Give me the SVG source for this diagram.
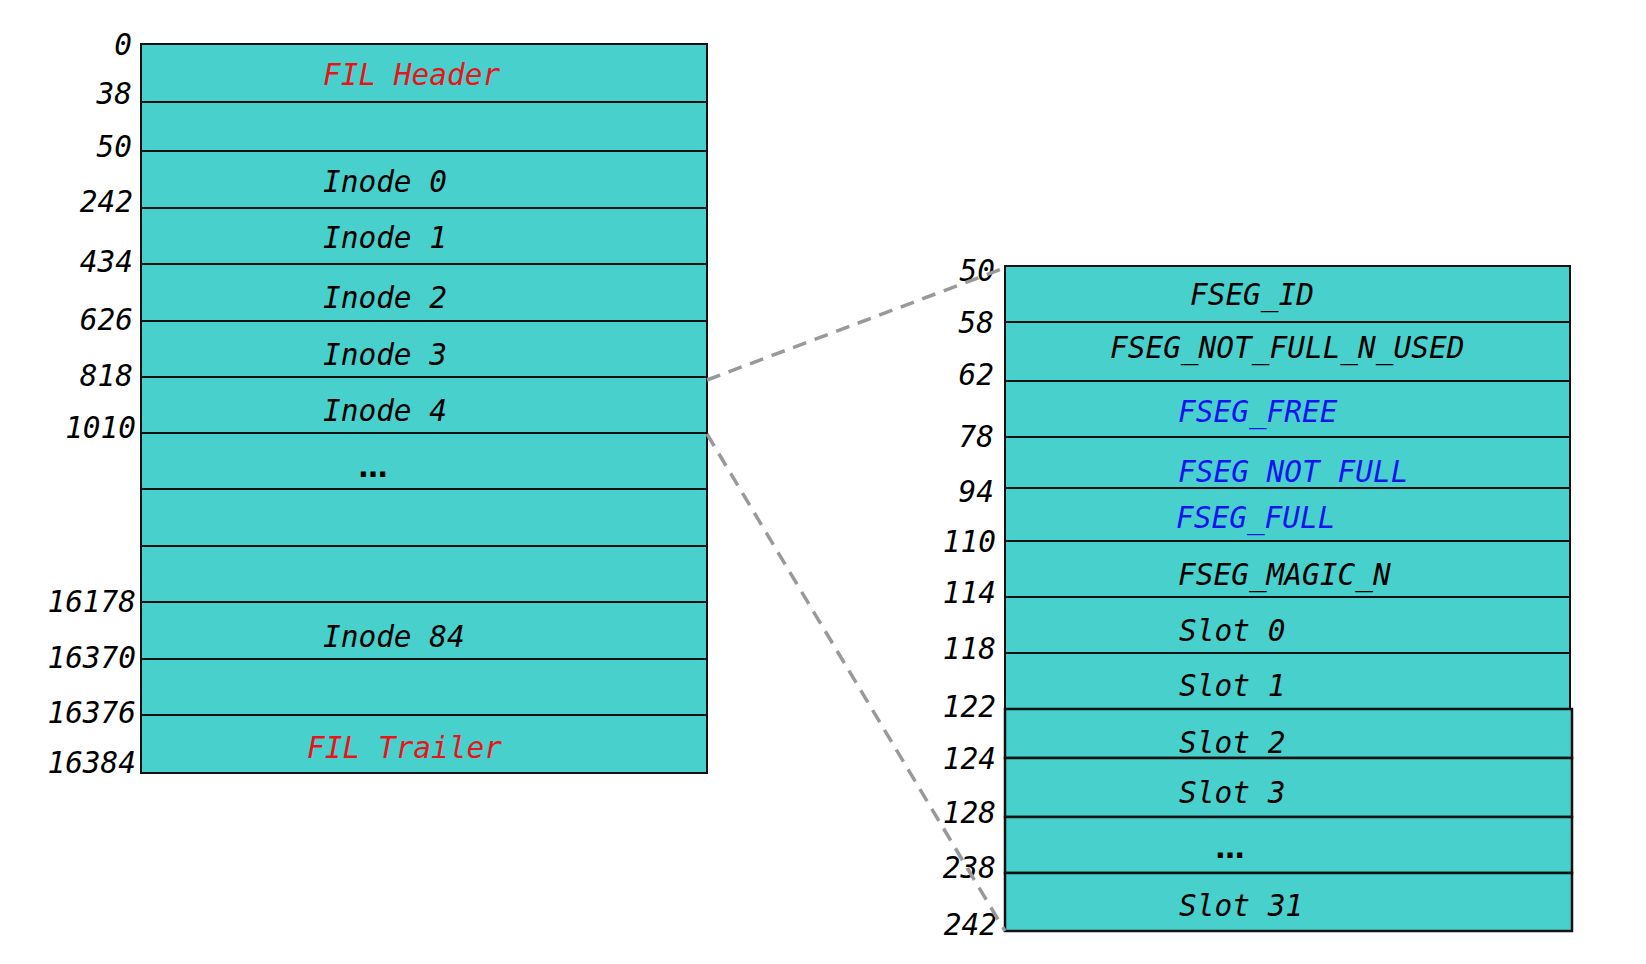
<svg xmlns="http://www.w3.org/2000/svg" width="1646" height="964" viewBox="0 0 1646 964">
<style>
.row{fill:#48D1CC;stroke:#111;stroke-width:2}
.rowb{fill:#48D1CC;stroke:#111;stroke-width:2.5}
.t{font-family:"DejaVu Sans Mono","Liberation Mono",monospace;font-style:italic;font-size:31px;fill:#000}
.red{fill:#e8141a}
.blue{fill:#1414ee}
.lbl{font-family:"DejaVu Sans Mono","Liberation Mono",monospace;font-style:italic;font-size:31px;fill:#000;text-anchor:end}
.dots{font-family:"DejaVu Sans",sans-serif;font-weight:bold;font-size:29px;fill:#000;text-anchor:middle}
.conn{stroke:#999;stroke-width:3.5;stroke-dasharray:14 9;fill:none}
</style>
<rect width="1646" height="964" fill="#fff"/>
<g id="page">
  <g id="fil-header"><rect class="row" x="141" y="44" width="566" height="58"/><text class="t red" transform="scale(0.95 1)" x="340" y="85">FIL Header</text></g>
  <g id="row-38"><rect class="row" x="141" y="102" width="566" height="49"/></g>
  <g id="inode-0"><rect class="row" x="141" y="151" width="566" height="57"/><text class="t" transform="scale(0.95 1)" x="340" y="192">Inode 0</text></g>
  <g id="inode-1"><rect class="row" x="141" y="208" width="566" height="56"/><text class="t" transform="scale(0.95 1)" x="340" y="248">Inode 1</text></g>
  <g id="inode-2"><rect class="row" x="141" y="264" width="566" height="57"/><text class="t" transform="scale(0.95 1)" x="340" y="308">Inode 2</text></g>
  <g id="inode-3"><rect class="row" x="141" y="321" width="566" height="56"/><text class="t" transform="scale(0.95 1)" x="340" y="365">Inode 3</text></g>
  <g id="inode-4"><rect class="row" x="141" y="377" width="566" height="56"/><text class="t" transform="scale(0.95 1)" x="340" y="421">Inode 4</text></g>
  <g id="inode-more"><rect class="row" x="141" y="433" width="566" height="56"/><text class="dots" x="373" y="477">…</text></g>
  <g id="row-blank-1"><rect class="row" x="141" y="489" width="566" height="57"/></g>
  <g id="row-blank-2"><rect class="row" x="141" y="546" width="566" height="56"/></g>
  <g id="inode-84"><rect class="row" x="141" y="602" width="566" height="57"/><text class="t" transform="scale(0.95 1)" x="340" y="647">Inode 84</text></g>
  <g id="row-16370"><rect class="row" x="141" y="659" width="566" height="56"/></g>
  <g id="fil-trailer"><rect class="row" x="141" y="715" width="566" height="58"/><text class="t red" transform="scale(0.95 1)" x="323.2" y="758">FIL Trailer</text></g>
</g>
<g id="page-labels" transform="scale(0.95 1)">
  <text class="lbl" x="138.9" y="55">0</text>
  <text class="lbl" x="138.9" y="104">38</text>
  <text class="lbl" x="138.9" y="157">50</text>
  <text class="lbl" x="140" y="212">242</text>
  <text class="lbl" x="140" y="272">434</text>
  <text class="lbl" x="140" y="330">626</text>
  <text class="lbl" x="140" y="386">818</text>
  <text class="lbl" x="143.2" y="438">1010</text>
  <text class="lbl" x="143.2" y="612">16178</text>
  <text class="lbl" x="143.2" y="668">16370</text>
  <text class="lbl" x="143.2" y="723">16376</text>
  <text class="lbl" x="143.2" y="773">16384</text>
</g>
<g id="inode">
  <g id="fseg-id"><rect class="row" x="1005" y="266" width="565" height="56"/><text class="t" transform="scale(0.95 1)" x="1252.6" y="305">FSEG_ID</text></g>
  <g id="fseg-not-full-n-used"><rect class="row" x="1005" y="322" width="565" height="59"/><text class="t" transform="scale(0.95 1)" x="1168.4" y="358">FSEG_NOT_FULL_N_USED</text></g>
  <g id="fseg-free"><rect class="row" x="1005" y="381" width="565" height="56"/><text class="t blue" transform="scale(0.95 1)" x="1240" y="422">FSEG_FREE</text></g>
  <g id="fseg-not-full"><rect class="row" x="1005" y="437" width="565" height="51"/><text class="t blue" transform="scale(0.95 1)" x="1240" y="482">FSEG_NOT_FULL</text></g>
  <g id="fseg-full"><rect class="row" x="1005" y="488" width="565" height="53"/><text class="t blue" transform="scale(0.95 1)" x="1237.9" y="528">FSEG_FULL</text></g>
  <g id="fseg-magic-n"><rect class="row" x="1005" y="541" width="565" height="56"/><text class="t" transform="scale(0.95 1)" x="1240" y="585">FSEG_MAGIC_N</text></g>
  <g id="slot-0"><rect class="row" x="1005" y="597" width="565" height="56"/><text class="t" transform="scale(0.95 1)" x="1241.1" y="641">Slot 0</text></g>
  <g id="slot-1"><rect class="row" x="1005" y="653" width="565" height="56"/><text class="t" transform="scale(0.95 1)" x="1241.1" y="696">Slot 1</text></g>
  <g id="slot-2"><rect class="rowb" x="1005" y="709" width="567" height="49"/><text class="t" transform="scale(0.95 1)" x="1241.1" y="753">Slot 2</text></g>
  <g id="slot-3"><rect class="rowb" x="1005" y="758" width="567" height="59"/><text class="t" transform="scale(0.95 1)" x="1241.1" y="803">Slot 3</text></g>
  <g id="slot-more"><rect class="rowb" x="1005" y="817" width="567" height="56"/><text class="dots" x="1230" y="858">…</text></g>
  <g id="slot-31"><rect class="rowb" x="1005" y="873" width="567" height="58"/><text class="t" transform="scale(0.95 1)" x="1241.1" y="916">Slot 31</text></g>
</g>
<g id="inode-labels" transform="scale(0.95 1)">
  <text class="lbl" x="1047.4" y="281">50</text>
  <text class="lbl" x="1046.3" y="333">58</text>
  <text class="lbl" x="1046.3" y="385">62</text>
  <text class="lbl" x="1046.3" y="447">78</text>
  <text class="lbl" x="1046.3" y="502">94</text>
  <text class="lbl" x="1048.4" y="552">110</text>
  <text class="lbl" x="1048.4" y="603">114</text>
  <text class="lbl" x="1048.4" y="659">118</text>
  <text class="lbl" x="1048.4" y="717">122</text>
  <text class="lbl" x="1048.4" y="769">124</text>
  <text class="lbl" x="1048.4" y="823">128</text>
  <text class="lbl" x="1048.4" y="878">238</text>
  <text class="lbl" x="1049.5" y="935">242</text>
</g>
<g id="connectors">
  <line class="conn" x1="707" y1="380" x2="1007" y2="267"/>
  <line class="conn" x1="707" y1="434" x2="1005" y2="931"/>
</g>
</svg>
